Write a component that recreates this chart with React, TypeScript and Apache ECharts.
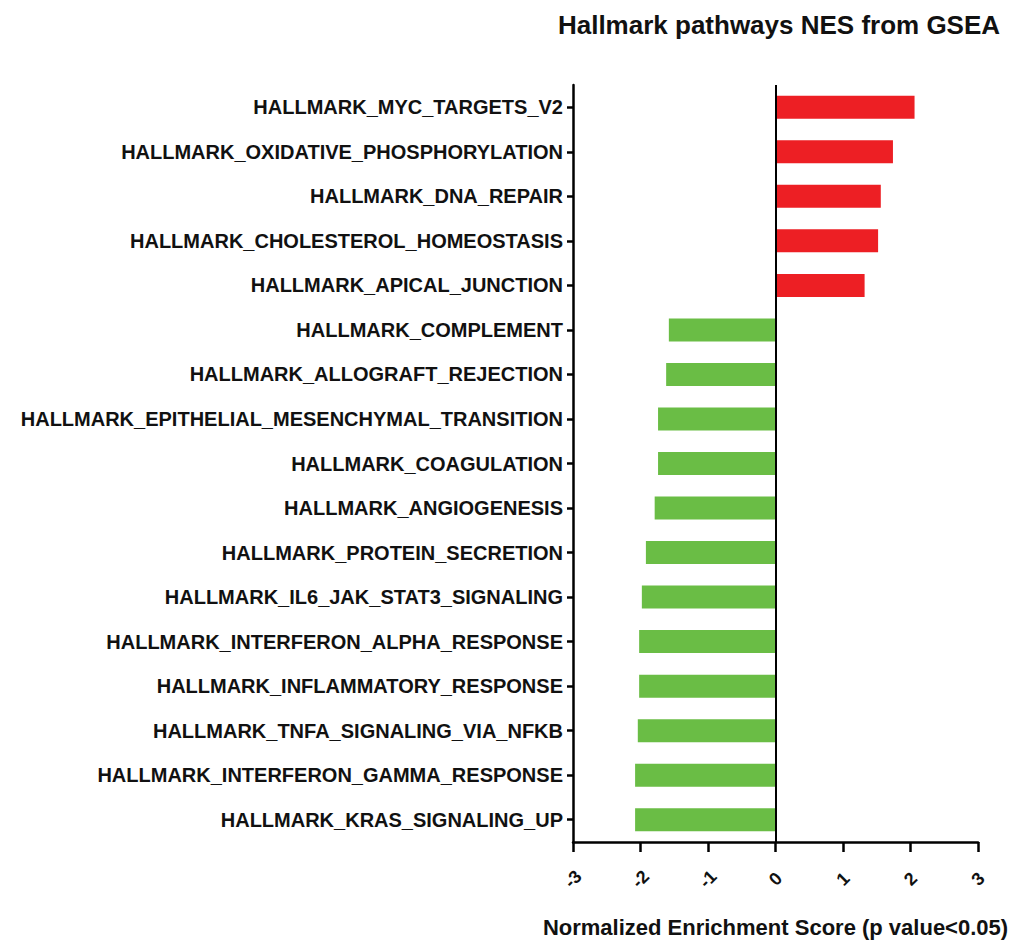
import React, { useEffect, useRef } from "react";
import * as echarts from "echarts";

const pathways: string[] = [
  "HALLMARK_MYC_TARGETS_V2",
  "HALLMARK_OXIDATIVE_PHOSPHORYLATION",
  "HALLMARK_DNA_REPAIR",
  "HALLMARK_CHOLESTEROL_HOMEOSTASIS",
  "HALLMARK_APICAL_JUNCTION",
  "HALLMARK_COMPLEMENT",
  "HALLMARK_ALLOGRAFT_REJECTION",
  "HALLMARK_EPITHELIAL_MESENCHYMAL_TRANSITION",
  "HALLMARK_COAGULATION",
  "HALLMARK_ANGIOGENESIS",
  "HALLMARK_PROTEIN_SECRETION",
  "HALLMARK_IL6_JAK_STAT3_SIGNALING",
  "HALLMARK_INTERFERON_ALPHA_RESPONSE",
  "HALLMARK_INFLAMMATORY_RESPONSE",
  "HALLMARK_TNFA_SIGNALING_VIA_NFKB",
  "HALLMARK_INTERFERON_GAMMA_RESPONSE",
  "HALLMARK_KRAS_SIGNALING_UP",
];

const nes: number[] = [
  2.06, 1.74, 1.56, 1.52, 1.32,
  -1.58, -1.62, -1.74, -1.74, -1.79, -1.92, -1.98, -2.02, -2.02, -2.04, -2.08, -2.08,
];

const xTicks = { min: -3, max: 3, interval: 1 };

const titleText = "Hallmark pathways NES from GSEA";
const xAxisTitle = "Normalized Enrichment Score (p value<0.05)";

const RED = "#ED1F24";
const GREEN = "#6ABD45";

export default function App() {
  const ref = useRef<HTMLDivElement>(null);

  useEffect(() => {
    document.body.style.margin = "0";
    if (!ref.current) return;
    const chart = echarts.init(ref.current, undefined, { renderer: "svg" });
    const font = "'Liberation Sans', Arial, sans-serif";
    chart.setOption({
      animation: false,
      backgroundColor: "#ffffff",
      title: {
        text: titleText,
        left: 774,
        top: 7,
        textAlign: "center",
        textStyle: { fontFamily: font, fontWeight: "bold", fontSize: 26, color: "#111" },
      },
      grid: {
        left: 573,
        right: 38,
        top: 85,
        bottom: 108,
        containLabel: false,
        outerBoundsMode: "none",
      },
      xAxis: {
        type: "value",
        min: xTicks.min,
        max: xTicks.max,
        interval: xTicks.interval,
        splitLine: { show: false },
        axisLine: { show: true, onZero: false, lineStyle: { color: "#000", width: 2.5 } },
        axisTick: { show: true, length: 10, lineStyle: { color: "#000", width: 2.5 } },
        axisLabel: {
          rotate: 45,
          align: "center",
          verticalAlign: "middle",
          margin: 37,
          fontFamily: font,
          fontWeight: "bold",
          fontSize: 18,
          color: "#111",
        },
        name: xAxisTitle,
        nameLocation: "middle",
        nameGap: 74,
        nameTextStyle: { fontFamily: font, fontWeight: "bold", fontSize: 22, color: "#111" },
      },
      yAxis: {
        type: "category",
        data: pathways,
        inverse: true,
        axisLine: { show: true, onZero: false, lineStyle: { color: "#000", width: 2.5 } },
        axisTick: { show: true, alignWithLabel: true, length: 6, lineStyle: { color: "#000", width: 2.5 } },
        axisLabel: {
          margin: 10,
          fontFamily: font,
          fontWeight: "bold",
          fontSize: 20,
          color: "#111",
        },
        splitLine: { show: false },
      },
      series: [
        {
          type: "bar",
          barWidth: 23,
          data: nes.map((v) => ({ value: v, itemStyle: { color: v >= 0 ? RED : GREEN } })),
          markLine: {
            silent: true,
            symbol: "none",
            label: { show: false },
            lineStyle: { color: "#000", width: 2, type: "solid" },
            data: [{ xAxis: 0 }],
          },
        },
      ],
    });
    return () => chart.dispose();
  }, []);

  return <div ref={ref} style={{ width: 1016, height: 950 }} />;
}
